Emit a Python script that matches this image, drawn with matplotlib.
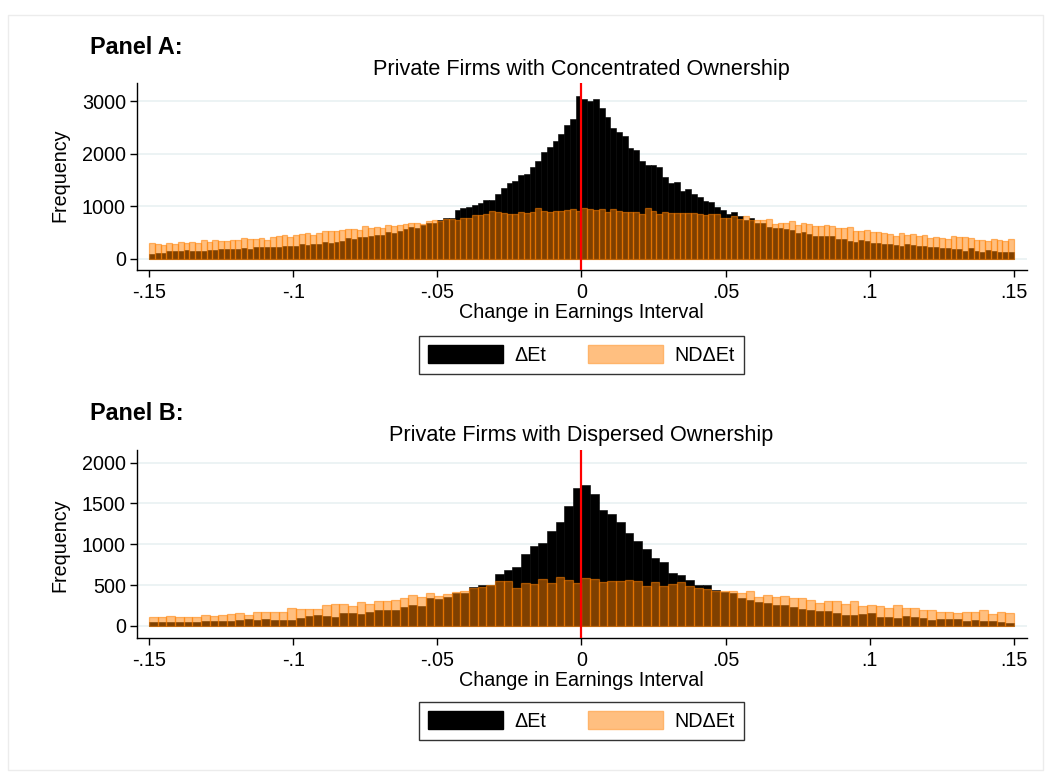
import numpy as np
import matplotlib.pyplot as plt
from matplotlib.patches import Patch, Rectangle

plt.rcParams['font.family'] = ['Liberation Sans', 'DejaVu Sans']

# histogram bins: both panels start at -.15
bin_start = -0.15
width_a = 0.002
width_b = 0.003

# Panel A: concentrated ownership, 150 bins
delta_a = [101, 120, 120, 146, 146, 146, 165, 146, 146, 146, 165, 165, 184, 184, 184, 184, 203, 184, 222, 222,
           222, 222, 222, 254, 254, 254, 292, 273, 292, 292, 330, 311, 330, 349, 406, 387, 425, 425, 444, 463,
           463, 520, 501, 539, 577, 615, 596, 653, 691, 691,
           736, 774, 780, 938, 977, 996, 1034, 1065, 1122, 1122, 1243, 1357, 1452, 1490, 1604, 1623, 1756, 1864,
           2042, 2137, 2251, 2384, 2555, 2670, 3107, 3050, 3012, 3050, 2879, 2708, 2498, 2422, 2346, 2118, 2080,
           1871, 1795, 1795, 1756, 1566, 1452, 1471, 1300, 1338, 1243, 1186, 1110, 1091, 996, 938,
           862, 900, 824, 748, 786, 691, 691, 615, 596, 596, 577, 558, 501, 520, 482, 444, 444, 444, 444, 387,
           387, 349, 330, 368, 349, 311, 311, 292, 292, 273, 254, 292, 273, 254, 254, 235, 235, 216, 216, 197,
           197, 159, 216, 159, 140, 178, 159, 140, 140, 140]
nd_a = [311, 292, 273, 311, 292, 330, 311, 330, 311, 368, 330, 368, 349, 349, 368, 368, 406, 387, 387, 393,
        368, 425, 444, 463, 425, 463, 482, 501, 463, 501, 539, 539, 539, 558, 577, 577, 558, 634, 596, 615,
        596, 653, 634, 653, 672, 679, 679, 672, 723, 742,
        729, 755, 767, 736, 786, 786, 831, 831, 862, 907, 900, 869, 850, 850, 900, 875, 900, 977, 919, 900,
        919, 919, 938, 958, 919, 977, 958, 938, 958, 900, 958, 919, 888, 888, 900, 862, 977, 919, 850, 888,
        875, 875, 875, 875, 869, 850, 831, 850, 850, 786,
        786, 824, 767, 812, 748, 748, 748, 767, 672, 691, 691, 729, 653, 691, 672, 634, 634, 653, 634, 596,
        596, 615, 539, 539, 558, 520, 520, 501, 482, 444, 501, 463, 482, 444, 463, 406, 425, 406, 387, 444,
        425, 425, 406, 368, 368, 349, 387, 368, 349, 387]

# Panel B: dispersed ownership, 100 bins
delta_b = [45, 45, 45, 45, 45, 45, 57, 57, 57, 57, 69, 82, 69, 82, 69, 69, 69, 94, 118, 131,
           118, 106, 155, 155, 143, 167, 192, 192, 192, 228, 253, 241, 339, 326,
           351, 408, 404, 481, 506, 506, 632, 681, 718, 877, 975, 1011, 1158, 1268, 1464, 1684,
           1721, 1611, 1415, 1366, 1268, 1134, 1036, 938, 828, 779, 644, 620, 559, 498, 498, 436,
           412, 400, 339, 314, 290, 277, 253, 253, 228, 204, 192, 179, 179, 155, 131, 131, 143, 155,
           106, 106, 94, 118, 106, 94, 69, 82, 82, 82, 57, 69, 57, 57, 45, 33]
nd_b = [106, 106, 122, 110, 106, 110, 135, 122, 131, 143, 155, 131, 171, 171, 167, 167, 220, 204, 204, 204,
        257, 269, 265, 245, 290, 269, 302, 302, 314, 339, 375, 351, 400, 367,
        387, 416, 424, 461, 473, 505, 546, 546, 469, 522, 510, 579, 522, 595, 559, 522,
        583, 575, 534, 546, 546, 559, 551, 485, 534, 485, 510, 534, 485, 461, 449, 424,
        424, 424, 400, 424, 351, 375, 351, 363, 339, 339, 314, 277, 302, 302, 265, 302, 241, 253,
        241, 216, 253, 216, 216, 192, 192, 167, 167, 155, 167, 167, 192, 143, 167, 155]

xticks = [-0.15, -0.1, -0.05, 0, 0.05, 0.1, 0.15]
xticklabels = ['-.15', '-.1', '-.05', '0', '.05', '.1', '.15']
yticks_a = [0, 1000, 2000, 3000]
yticks_b = [0, 500, 1000, 1500, 2000]
legend_labels = ['\u0394Et', 'ND\u0394Et']

W, H = 1051, 778
fig = plt.figure(figsize=(W / 100, H / 100), dpi=100)
FS = 14.2
TITLE_FS = 15.6
PANEL_FS = 16.8

orange_fill = (1, 0.5, 0, 0.5)
orange_edge = (1, 0.5, 0, 0.55)

# faint outline of the graph region
fig.patches.append(Rectangle((8 / W, 1 - 770 / H), 1035 / W, 755 / H, transform=fig.transFigure,
                             fill=False, edgecolor='#ececec', linewidth=1.0))


def px_axes(left, top, right, bottom):
    return fig.add_axes([left / W, 1 - bottom / H, (right - left) / W, (bottom - top) / H])


def draw_panel(ax, width, delta, nd, ylim, yticks):
    edges = bin_start + width * np.arange(len(delta))
    ax.bar(edges, delta, width=width, align='edge', color='black', edgecolor='black',
           linewidth=0.4, zorder=2)
    ax.bar(edges, nd, width=width, align='edge', color=orange_fill, edgecolor=orange_edge,
           linewidth=0.9, zorder=3)
    ax.axvline(0, color='red', lw=1.6, zorder=4)
    ax.set_xlim(-0.15416, 0.15451)
    ax.set_ylim(*ylim)
    ax.set_xticks(xticks)
    ax.set_xticklabels(xticklabels)
    ax.set_yticks(yticks)
    ax.set_yticklabels([str(v) for v in yticks])
    ax.grid(axis='y', color='#eaf2f3', linewidth=1.3, zorder=0)
    ax.set_axisbelow(True)
    for side in ['top', 'right']:
        ax.spines[side].set_visible(False)
    for side in ['left', 'bottom']:
        ax.spines[side].set_linewidth(1.0)
    ax.tick_params(direction='out', length=5, width=1, labelsize=FS, pad=3)
    ax.tick_params(axis='x', pad=4)


def add_legend(cy):
    handles = [Patch(facecolor='black', edgecolor='black'),
               Patch(facecolor='#ffbf80', edgecolor='#ffb46a')]
    leg = fig.legend(handles, legend_labels, loc='center', bbox_to_anchor=(581.5 / W, 1 - cy / H),
                     ncol=2, frameon=True, fancybox=False, edgecolor='black', fontsize=FS,
                     handlelength=3.8, handleheight=1.05, handletextpad=0.6, columnspacing=2.1,
                     borderpad=0.45, borderaxespad=0)
    leg.get_frame().set_linewidth(1.0)


ax_a = px_axes(137, 83, 1027, 270)
draw_panel(ax_a, width_a, delta_a, nd_a, (-210, 3352), yticks_a)
ax_b = px_axes(137, 450, 1027, 638)
draw_panel(ax_b, width_b, delta_b, nd_b, (-147, 2154), yticks_b)

# panel headings, titles and axis labels
fig.text(90 / W, 1 - 47 / H, 'Panel A:', fontsize=PANEL_FS, fontweight='bold', va='center')
fig.text(581 / W, 1 - 69 / H, 'Private Firms with Concentrated Ownership', fontsize=TITLE_FS,
         ha='center', va='center')
fig.text(581 / W, 1 - 313 / H, 'Change in Earnings Interval', fontsize=FS, ha='center', va='center')
fig.text(60 / W, 1 - 175 / H, 'Frequency', fontsize=FS, rotation=90, ha='center', va='center')
add_legend(355)

fig.text(90 / W, 1 - 413 / H, 'Panel B:', fontsize=PANEL_FS, fontweight='bold', va='center')
fig.text(581 / W, 1 - 436 / H, 'Private Firms with Dispersed Ownership', fontsize=TITLE_FS,
         ha='center', va='center')
fig.text(581 / W, 1 - 680 / H, 'Change in Earnings Interval', fontsize=FS, ha='center', va='center')
fig.text(60 / W, 1 - 545 / H, 'Frequency', fontsize=FS, rotation=90, ha='center', va='center')
add_legend(721)

fig.savefig('out.png', dpi=100)
